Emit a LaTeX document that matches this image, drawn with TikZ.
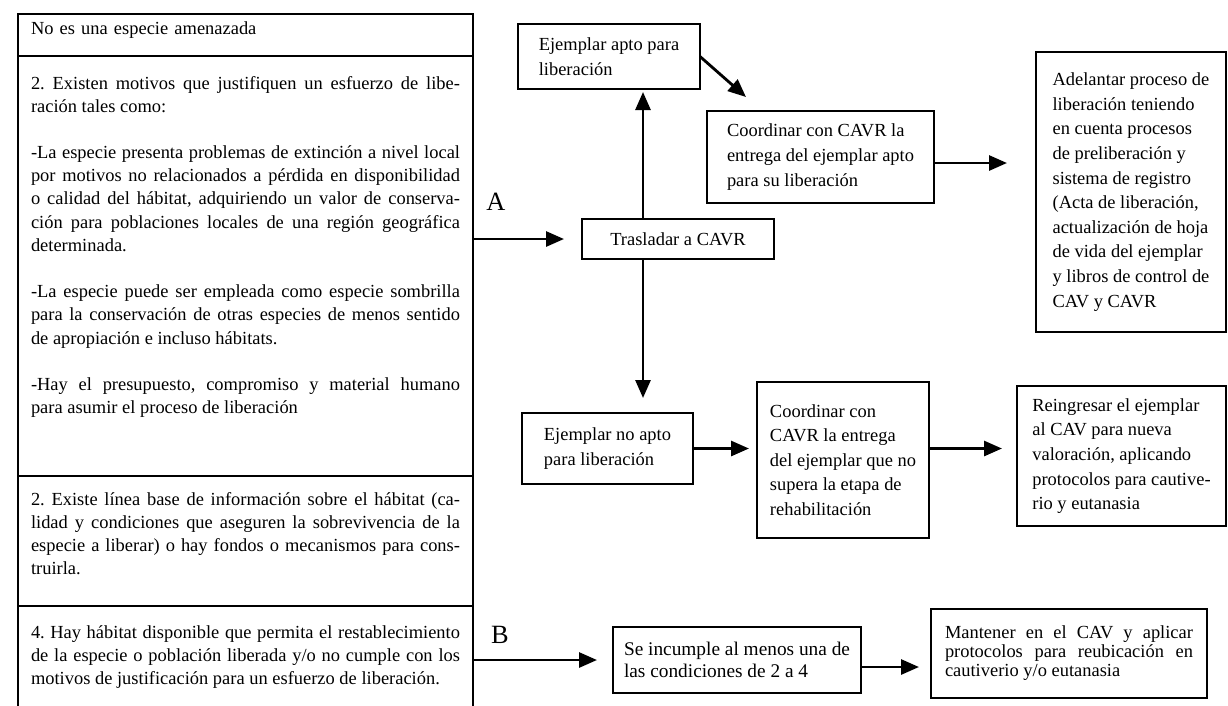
\documentclass[tikz,border=0pt]{standalone}
\usepackage{fontspec}
\setmainfont{Liberation Serif}
\usetikzlibrary{positioning, arrows.meta}
\sloppy
\frenchspacing

\begin{document}
\begin{tikzpicture}[
    col/.style={rectangle, draw=black, line width=1.3pt, outer sep=0pt, inner xsep=0.26cm, inner ysep=0pt, minimum width=9.1cm, text width=8.58cm, align=justify, font=\fontsize{10.5}{13.2}\selectfont},
    box/.style={rectangle, draw=black, line width=1.3pt, outer sep=0pt, inner sep=0pt, align=left, font=\fontsize{10.5}{14}\selectfont},
    etiq/.style={font=\fontsize{15}{18}\selectfont, inner sep=0pt},
    arrow/.style={->, >={Triangle[length=3.6mm, width=3mm]}, line width=1.6pt, draw=black}
]
    \useasboundingbox (0,0) rectangle (24.56,-14.1);
    \clip (0,0) rectangle (24.56,-14.1);

    % Left column - conditions
    \node[col, anchor=north west, text height=0.4cm, text depth=0.44cm, align=left] (amenaza) at (0.36,-0.28) {No es una especie amenazada};
    \node[col, below=0pt of amenaza, text height=0.66cm, text depth=7.74cm] (motivos) {2. Existen motivos que justifiquen un esfuerzo de libe-\linebreak ración tales como:\\[13.2pt]
        -La especie presenta problemas de extinción a nivel local\linebreak por motivos no relacionados a pérdida en disponibilidad\linebreak o calidad del hábitat, adquiriendo un valor de conserva-\linebreak ción para poblaciones locales de una región geográfica\linebreak determinada.\\[13.2pt]
        -La especie puede ser empleada como especie sombrilla\linebreak para la conservación de otras especies de menos sentido\linebreak de apropiación e incluso hábitats.\\[13.2pt]
        -Hay el presupuesto, compromiso y material humano\linebreak para asumir el proceso de liberación};
    \node[col, below=0pt of motivos, text height=0.58cm, text depth=2.02cm] (lineabase) {2. Existe línea base de información sobre el hábitat (ca-\linebreak lidad y condiciones que aseguren la sobrevivencia de la\linebreak especie a liberar) o hay fondos o mecanismos para cons-\linebreak truirla.};
    \node[col, below=0pt of lineabase, text height=0.64cm, text depth=1.6cm] (habitat) {4. Hay hábitat disponible que permita el restablecimiento\linebreak de la especie o población liberada y/o no cumple con los\linebreak motivos de justificación para un esfuerzo de liberación.};

    % Branch A
    \node[box, minimum width=3.84cm, minimum height=0.8cm, align=center] (trasladar) at (13.56,-4.78) {Trasladar a CAVR};
    \node[box, above=2.6cm of trasladar, xshift=-1.38cm, minimum width=3.64cm, minimum height=1.3cm] (apto) {Ejemplar apto para\\liberación};
    \node[box, below right=0.44cm and 0.14cm of apto, minimum width=4.54cm, minimum height=1.84cm] (entregaapto) {Coordinar con CAVR la\\entrega del ejemplar apto\\para su liberación};
    \node[box, right=2.04cm of entregaapto, yshift=-0.7cm, minimum width=3.8cm, minimum height=5.6cm] (adelantar) {Adelantar proceso de\\liberación teniendo\\en cuenta procesos\\de preliberación y\\sistema de registro\\(Acta de liberación,\\actualización de hoja\\de vida del ejemplar\\y libros de control de\\CAV y CAVR};
    \node[box, below=3.08cm of trasladar, xshift=-1.41cm, minimum width=3.42cm, minimum height=1.42cm] (noapto) {Ejemplar no apto\\para liberación};
    \node[box, right=1.28cm of noapto, yshift=-0.23cm, minimum width=3.44cm, minimum height=3.12cm] (entreganoapto) {Coordinar con\\CAVR la entrega\\del ejemplar que no\\supera la etapa de\\rehabilitación};
    \node[box, right=1.76cm of entreganoapto, yshift=0.08cm, minimum width=4.18cm, minimum height=2.8cm] (reingresar) {Reingresar el ejemplar\\al CAV para nueva\\valoración, aplicando\\protocolos para cautive-\\rio y eutanasia};

    % Branch B
    \node[box, below=2.86cm of noapto, xshift=2.59cm, minimum width=4.96cm, minimum height=1.32cm, font=\fontsize{11}{12.5}\selectfont] (incumple) {Se incumple al menos una de\\las condiciones de 2 a 4};
    \node[box, right=1.4cm of incumple, yshift=0.13cm, minimum width=5.52cm, minimum height=1.78cm, text width=4.96cm, align=justify, font=\fontsize{10.5}{10.8}\selectfont] (mantener) {Mantener en el CAV y aplicar\linebreak protocolos para reubicación en\linebreak cautiverio y/o eutanasia};

    % Labels
    \node[etiq] (etiqA) at (9.92,-4.04) {A};
    \node[etiq] (etiqB) at (10.0,-12.69) {B};

    % Helper points
    \coordinate (tallo) at ([xshift=-0.7cm]trasladar.north);
    \coordinate (tallob) at ([xshift=-0.7cm]trasladar.south);
    \coordinate (aptotip) at ([shift={(0.92,-0.81)}]apto.east);
    \coordinate (salida) at ([yshift=-0.12cm]entregaapto.east);
    \coordinate (salidab) at ([yshift=-0.14cm]incumple.east);

    % Arrows
    \draw[arrow, shorten >=0.36cm] (motivos.east |- trasladar.west) -- (trasladar.west);
    \draw[arrow, shorten >=0.06cm] (tallo) -- (tallo |- apto.south);
    \draw[arrow] (apto.east) -- (aptotip);
    \draw[arrow, shorten >=0.58cm] (salida) -- (salida -| adelantar.west);
    \draw[arrow, shorten >=0.3cm] (tallob) -- (tallob |- noapto.north);
    \draw[arrow, shorten >=0.16cm] (noapto.east) -- (noapto.east -| entreganoapto.west);
    \draw[arrow, shorten >=0.3cm] (noapto.east -| entreganoapto.east) -- (noapto.east -| reingresar.west);
    \draw[arrow, shorten >=0.32cm] (habitat.east |- incumple.west) -- (incumple.west);
    \draw[arrow, shorten >=0.24cm] (salidab) -- (salidab -| mantener.west);

\end{tikzpicture}
\end{document}
